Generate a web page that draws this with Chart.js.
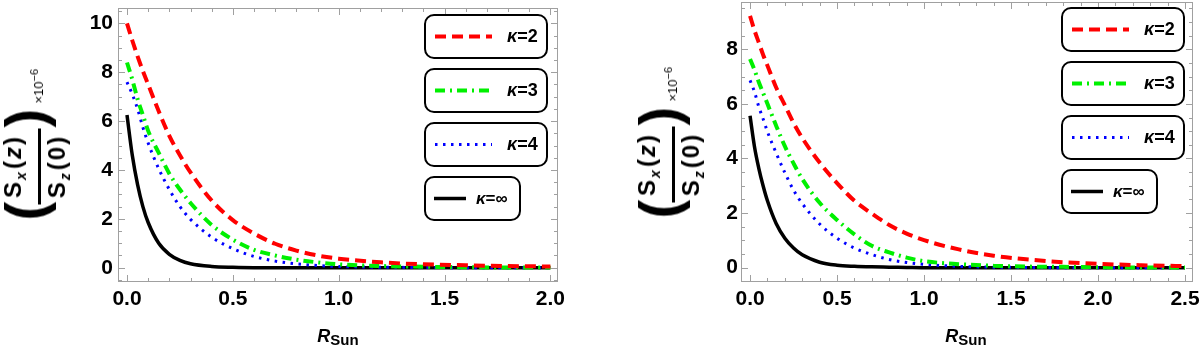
<!DOCTYPE html>
<html>
<head>
<meta charset="utf-8">
<script src="https://cdn.jsdelivr.net/npm/chart.js@4.4.0/dist/chart.umd.min.js"></script>
<style>
  html, body { margin: 0; padding: 0; background: #fff; }
  body { width: 1200px; height: 348px; position: relative; overflow: hidden; font-family: "Liberation Sans", Arial, sans-serif; }
  .panel { position: absolute; top: 0; width: 600px; height: 348px; }
  /* rotated y label, unrotated box 155 x 72 */
  .ylab { position: absolute; width: 155px; height: 72px; font-weight: bold; white-space: nowrap;
          transform: translate(-50%, -50%) rotate(-90deg); }
  .ylab > * { position: absolute; }
  .ylab .par { font-size: 56px; line-height: 56px; top: -6px; }
  .ylab .frac { left: 17px; width: 76px; top: 0; height: 72px; font-size: 24px; line-height: 24px; letter-spacing: 2px; }
  .ylab .frac div { position: absolute; left: 0; width: 100%; text-align: center; }
  .ylab .num { top: -2px; }
  .ylab .bar { top: 35px; height: 3px; background: #000; }
  .ylab .den { top: 42px; }
  .ylab sub { font-size: 14px; font-style: italic; vertical-align: -5px; letter-spacing: 1px; }
  .ylab .paren { margin-left: 2px; }
  .ylab i { font-style: italic; }
  .ylab .exp { left: 118px; top: 25px; font-size: 13px; line-height: 13px; font-weight: normal; }
  .ylab .exp sup { font-size: 11px; vertical-align: 5px; }
  .xlab { position: absolute; top: 327px; transform: translateX(-50%); font: bold italic 18px/18px "Liberation Sans", Arial, sans-serif; white-space: nowrap; }
  .xlab span { font-style: normal; font-size: 15px; position: relative; top: 3px; }
</style>
</head>
<body>
<div class="panel" style="left:0"><canvas id="left"></canvas></div>
<div class="panel" style="left:600px"><canvas id="right"></canvas></div>

<div class="ylab" style="left:39px; top:144px">
  <span class="par" style="left:1px">(</span>
  <div class="frac">
    <div class="num">S<sub>x</sub><span class="paren">(</span><i>z</i>)</div>
    <div class="bar"></div>
    <div class="den">S<sub>z</sub><span class="paren">(</span>0)</div>
  </div>
  <span class="par" style="left:94px">)</span>
  <span class="exp">×10<sup>−6</sup></span>
</div>
<div class="ylab" style="left:673px; top:142px">
  <span class="par" style="left:1px">(</span>
  <div class="frac">
    <div class="num">S<sub>x</sub><span class="paren">(</span><i>z</i>)</div>
    <div class="bar"></div>
    <div class="den">S<sub>z</sub><span class="paren">(</span>0)</div>
  </div>
  <span class="par" style="left:94px">)</span>
  <span class="exp">×10<sup>−6</sup></span>
</div>
<div class="xlab" style="left:338px">R<span>Sun</span></div>
<div class="xlab" style="left:966px">R<span>Sun</span></div>

<script>
// left panel, z up to 2 R_sun
const xLeft = [0, 0.025, 0.05, 0.075, 0.1, 0.15, 0.2, 0.25, 0.3, 0.4, 0.5, 0.6, 0.7, 0.8, 0.9, 1.0, 1.2, 1.4, 1.6, 1.8, 2.0];
const k2Left = [10.0, 9.3, 8.65, 8.05, 7.5, 6.4, 5.4, 4.6, 3.9, 2.75, 1.95, 1.4, 0.98, 0.70, 0.50, 0.37, 0.22, 0.14, 0.10, 0.07, 0.05];
const k3Left = [8.4, 7.7, 6.9, 6.25, 5.6, 4.7, 3.85, 3.2, 2.65, 1.75, 1.15, 0.73, 0.50, 0.33, 0.22, 0.14, 0.07, 0.04, 0.02, 0.01, 0.01];
const k4Left = [7.6, 7.1, 6.5, 5.75, 5.1, 4.05, 3.2, 2.5, 1.98, 1.25, 0.78, 0.46, 0.27, 0.16, 0.09, 0.05, 0.02, 0.01, 0, 0, 0];
const kInfLeft = [6.25, 4.6, 3.4, 2.5, 1.85, 1.0, 0.55, 0.30, 0.16, 0.05, 0.015, 0, 0, 0, 0, 0, 0, 0, 0, 0, 0];

// right panel, z up to 2.5 R_sun
const xRight = [0, 0.025, 0.05, 0.075, 0.1, 0.15, 0.2, 0.25, 0.3, 0.4, 0.5, 0.6, 0.7, 0.8, 0.9, 1.0, 1.2, 1.4, 1.6, 1.8, 2.0, 2.25, 2.5];
const k2Right = [9.22, 8.7, 8.25, 7.8, 7.4, 6.6, 5.95, 5.3, 4.75, 3.85, 3.1, 2.45, 1.98, 1.56, 1.25, 1.01, 0.67, 0.44, 0.30, 0.20, 0.14, 0.09, 0.06];
const k3Right = [7.64, 7.25, 6.8, 6.4, 6.0, 5.2, 4.45, 3.82, 3.25, 2.38, 1.75, 1.22, 0.80, 0.56, 0.37, 0.24, 0.13, 0.07, 0.04, 0.03, 0.02, 0.01, 0.01];
const k4Right = [6.86, 6.45, 5.9, 5.45, 4.98, 4.2, 3.48, 2.84, 2.35, 1.6, 1.08, 0.72, 0.48, 0.30, 0.19, 0.12, 0.05, 0.02, 0.01, 0, 0, 0, 0];
const kInfRight = [5.56, 4.45, 3.65, 3.0, 2.45, 1.62, 1.08, 0.72, 0.47, 0.20, 0.09, 0.05, 0.03, 0.02, 0.01, 0, 0, 0, 0, 0, 0, 0, 0];

const labels = ["κ=2", "κ=3", "κ=4", "κ=∞"];
const colors = ["#ff0000", "#00f000", "#0000ff", "#000000"];
const dashes = [[11, 6], [10, 5, 2, 5], [2.5, 5.5], []];
const widths = [4, 4, 3, 3.5];

const FONT = '"Liberation Sans", Arial, sans-serif';

// frame with inward ticks on all four sides (Mathematica style)
const framePlugin = {
  id: 'frame',
  beforeDatasetsDraw(chart, args, o) {
    const { ctx, chartArea: a, scales: { x, y } } = chart;
    ctx.save();
    ctx.strokeStyle = '#a0a0a0';
    ctx.lineWidth = 1;
    ctx.strokeRect(a.left + 0.5, a.top + 0.5, a.right - a.left - 1, a.bottom - a.top - 1);
    const isMajor = (v, m) => Math.abs(v / m - Math.round(v / m)) < 1e-6;
    ctx.beginPath();
    for (let i = Math.ceil(x.min / o.xMinor); i * o.xMinor <= x.max + 1e-9; i++) {
      const v = i * o.xMinor;
      const px = Math.round(x.getPixelForValue(v)) + 0.5;
      const len = isMajor(v, o.xMajor) ? 7 : 4;
      ctx.moveTo(px, a.bottom); ctx.lineTo(px, a.bottom - len);
      ctx.moveTo(px, a.top); ctx.lineTo(px, a.top + len);
    }
    for (let i = Math.ceil(y.min / o.yMinor); i * o.yMinor <= y.max + 1e-9; i++) {
      const v = i * o.yMinor;
      const py = Math.round(y.getPixelForValue(v)) + 0.5;
      const len = isMajor(v, o.yMajor) ? 7 : 4;
      ctx.moveTo(a.left, py); ctx.lineTo(a.left + len, py);
      ctx.moveTo(a.right, py); ctx.lineTo(a.right - len, py);
    }
    ctx.stroke();
    ctx.restore();
  }
};

// separate rounded legend boxes at upper right
const legendPlugin = {
  id: 'boxLegend',
  afterDraw(chart, args, o) {
    const { ctx, chartArea: a } = chart;
    const sets = chart.data.datasets.slice().sort((p, q) => labels.indexOf(p.label) - labels.indexOf(q.label));
    ctx.save();
    sets.forEach((ds, i) => {
      const last = i === sets.length - 1;
      const bx = a.right - o.offsetRight;
      const by = a.top + o.offsetTop + i * 54;
      const bw = last ? 95 : 122, bh = 43;
      ctx.beginPath();
      ctx.roundRect(bx, by, bw, bh, 9);
      ctx.fillStyle = '#fff';
      ctx.fill();
      ctx.lineWidth = 2;
      ctx.strokeStyle = '#000';
      ctx.setLineDash([]);
      ctx.stroke();
      const cy = by + bh / 2;
      const lx1 = last ? bx + 9 : bx + 10, lx2 = last ? bx + 41 : bx + 67;
      ctx.beginPath();
      ctx.setLineDash(ds.borderDash || []);
      ctx.strokeStyle = ds.borderColor;
      ctx.lineWidth = ds.borderWidth;
      ctx.moveTo(lx1, cy); ctx.lineTo(lx2, cy);
      ctx.stroke();
      ctx.setLineDash([]);
      ctx.fillStyle = '#000';
      ctx.textBaseline = 'middle';
      const size = last ? 17 : 18;
      let tx = last ? bx + 51 : bx + 82;
      ctx.font = 'italic bold ' + size + 'px ' + FONT;
      ctx.fillText(ds.label[0], tx, cy + 1);
      tx += ctx.measureText(ds.label[0]).width;
      ctx.font = 'bold ' + size + 'px ' + FONT;
      ctx.fillText(ds.label.slice(1), tx, cy + 1);
    });
    ctx.restore();
  }
};

function makeChart(id, xs, series, cfg) {
  const datasets = series.map((ys, i) => ({
    label: labels[i],
    data: xs.map((x, j) => ({ x: x, y: ys[j] })),
    borderColor: colors[i],
    backgroundColor: colors[i],
    borderDash: dashes[i],
    borderWidth: widths[i],
    pointRadius: 0,
    cubicInterpolationMode: 'monotone',
    fill: false,
    order: i
  }));
  return new Chart(document.getElementById(id), {
    type: 'line',
    data: { datasets: datasets },
    options: {
      animation: false,
      responsive: true,
      maintainAspectRatio: false,
      devicePixelRatio: 1,
      layout: { autoPadding: false, padding: cfg.padding },
      plugins: {
        legend: { display: false },
        tooltip: { enabled: false },
        frame: cfg.frame,
        boxLegend: cfg.legend
      },
      scales: {
        x: {
          type: 'linear', min: cfg.xMin, max: cfg.xMax,
          grid: { display: false, drawTicks: false },
          border: { display: false },
          ticks: {
            stepSize: 0.5, includeBounds: false, padding: 5, color: '#000',
            font: { family: FONT, size: 21, weight: 'bold' },
            maxRotation: 0, autoSkip: false,
            callback: v => v.toFixed(1)
          },
          afterFit: s => { s.height = 66; s.paddingLeft = 0; s.paddingRight = 0; }
        },
        y: {
          type: 'linear', min: cfg.yMin, max: cfg.yMax,
          grid: { display: false, drawTicks: false },
          border: { display: false },
          ticks: {
            stepSize: 2, includeBounds: false, padding: cfg.yPad, color: '#000',
            font: { family: FONT, size: 21, weight: 'bold' },
            callback: v => String(v)
          },
          afterFit: s => { s.width = cfg.yWidth; s.paddingTop = 0; s.paddingBottom = 0; }
        }
      }
    },
    plugins: [framePlugin, legendPlugin]
  });
}

makeChart('left', xLeft, [k2Left, k3Left, k4Left, kInfLeft], {
  padding: { left: 0, top: 8, right: 42, bottom: 0 },
  xMin: -0.0425, xMax: 2.036, yMin: -0.585, yMax: 10.63,
  yWidth: 118, yPad: 5,
  frame: { xMinor: 0.1, xMajor: 0.5, yMinor: 0.5, yMajor: 2 },
  legend: { offsetRight: 133, offsetTop: 7 }
});

makeChart('right', xRight, [k2Right, k3Right, k4Right, kInfRight], {
  padding: { left: 0, top: 2, right: 7, bottom: 0 },
  xMin: -0.052, xMax: 2.546, yMin: -0.524, yMax: 9.73,
  yWidth: 141, yPad: 3,
  frame: { xMinor: 0.1, xMajor: 0.5, yMinor: 0.5, yMajor: 2 },
  legend: { offsetRight: 131, offsetTop: 6 }
});
</script>
</body>
</html>
